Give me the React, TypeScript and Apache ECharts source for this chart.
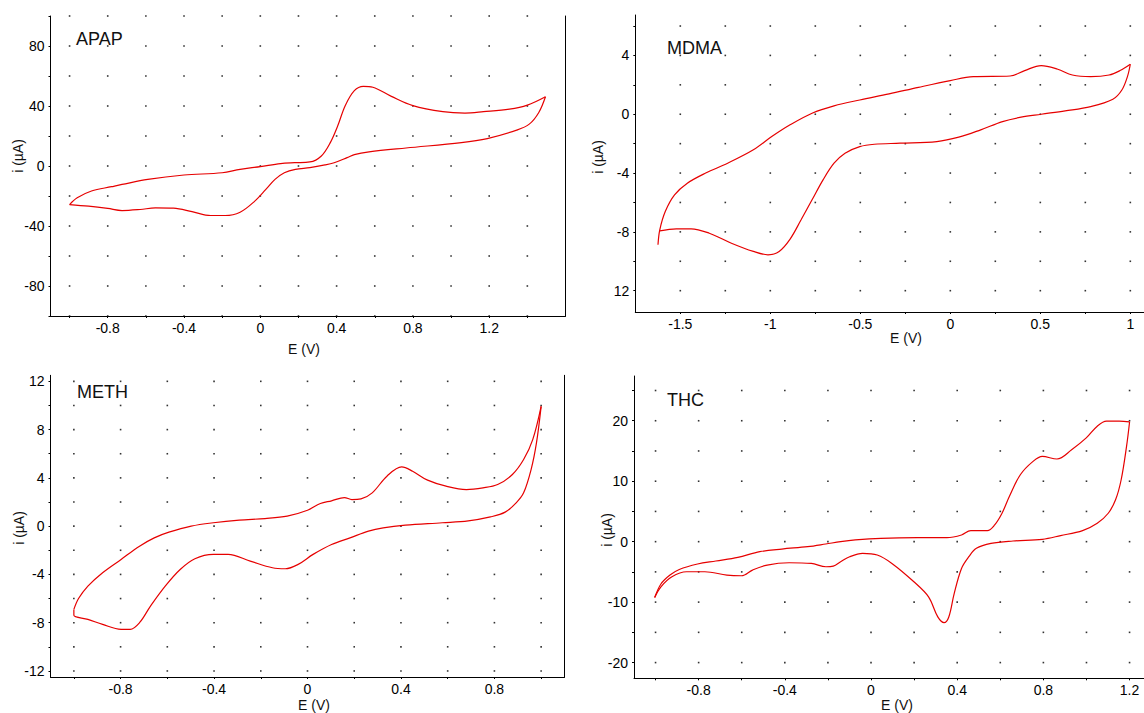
import React, { useEffect, useRef } from "react";
import * as echarts from "echarts";

const FONT = "'Liberation Sans', Arial, Helvetica, sans-serif";
const RED = "#e60000";

// ---------- APAP ----------
const apapFwdE = [-1.0, -0.96, -0.885, -0.78, -0.725, -0.59, -0.4, -0.2, -0.106, 0, 0.106, 0.18, 0.26, 0.32, 0.367, 0.406, 0.445, 0.493, 0.54, 0.59, 0.687, 0.8, 0.957, 1.073, 1.17, 1.306, 1.4, 1.495];
const apapFwdI = [-25.7, -21.2, -16.7, -13.8, -12.3, -8.9, -6.0, -4.5, -2.2, -0.4, 1.6, 2.2, 2.7, 6.7, 15.6, 26.8, 40.2, 50.2, 53.1, 52.5, 46.4, 40.2, 36.2, 35.3, 36.2, 37.9, 40.6, 46.2];
const apapRevE = [1.495, 1.46, 1.41, 1.344, 1.19, 1.054, 0.764, 0.57, 0.493, 0.455, 0.387, 0.339, 0.26, 0.184, 0.126, 0.077, 0.029, -0.029, -0.106, -0.184, -0.26, -0.358, -0.455, -0.55, -0.63, -0.725, -0.8, -0.9, -1.0];
const apapRevI = [46.2, 35.7, 27.9, 23.9, 18.3, 15.6, 12.0, 9.4, 7.6, 5.6, 2.2, 0.7, -1.1, -2.2, -4.5, -8.9, -15.6, -23.4, -30.8, -33.0, -33.0, -30.4, -28.1, -27.9, -29.0, -29.7, -28.3, -26.8, -25.7];
const apapXTicks = [-0.8, -0.4, 0, 0.4, 0.8, 1.2];
const apapXTickLabels = ["-0.8", "-0.4", "0", "0.4", "0.8", "1.2"];
const apapYTicks = [-80, -40, 0, 40, 80];
const apapYTickLabels = ["-80", "-40", "0", "40", "80"];
const apapXGrid = [-1.0, -0.8, -0.6, -0.4, -0.2, 0, 0.2, 0.4, 0.6, 0.8, 1.0, 1.2, 1.4];
const apapYGrid = [-100, -80, -60, -40, -20, 0, 20, 40, 60, 80, 100];

// ---------- MDMA ----------
const mdmaFwdE = [-1.624, -1.614, -1.583, -1.532, -1.461, -1.359, -1.237, -1.094, -0.992, -0.89, -0.768, -0.646, -0.503, -0.34, -0.177, 0, 0.128, 0.332, 0.413, 0.505, 0.597, 0.678, 0.78, 0.882, 0.943, 1.0];
const mdmaFwdI = [-8.88, -7.86, -6.6, -5.48, -4.69, -4.0, -3.33, -2.42, -1.52, -0.72, 0.07, 0.57, 0.97, 1.38, 1.83, 2.29, 2.56, 2.6, 2.97, 3.31, 3.06, 2.67, 2.56, 2.67, 2.97, 3.4];
const mdmaRevE = [1.0, 0.984, 0.953, 0.903, 0.78, 0.638, 0.505, 0.393, 0.29, 0.169, 0.047, -0.075, -0.279, -0.422, -0.503, -0.585, -0.646, -0.707, -0.768, -0.829, -0.89, -0.951, -1.013, -1.094, -1.216, -1.339, -1.44, -1.522, -1.614];
const mdmaRevI = [3.4, 2.56, 1.65, 1.02, 0.52, 0.23, 0, -0.2, -0.5, -1.06, -1.56, -1.86, -1.97, -2.04, -2.2, -2.65, -3.33, -4.46, -5.82, -7.18, -8.49, -9.33, -9.56, -9.33, -8.77, -8.09, -7.79, -7.79, -7.93];
const mdmaXTicks = [-1.5, -1, -0.5, 0, 0.5, 1];
const mdmaXTickLabels = ["-1.5", "-1", "-0.5", "0", "0.5", "1"];
const mdmaYTicks = [4, 0, -4, -8, -12];
const mdmaYTickLabels = ["4", "0", "-4", "-8", "12"];
const mdmaXGrid = [-1.5, -1.25, -1.0, -0.75, -0.5, -0.25, 0, 0.25, 0.5, 0.75, 1.0];
const mdmaYGrid = [-12, -10, -8, -6, -4, -2, 0, 2, 4, 6];

// ---------- METH ----------
const methFwdE = [-1.0, -0.98, -0.94, -0.877, -0.798, -0.719, -0.656, -0.593, -0.498, -0.403, -0.292, -0.182, -0.087, 0, 0.055, 0.103, 0.158, 0.19, 0.229, 0.277, 0.34, 0.403, 0.45, 0.514, 0.593, 0.68, 0.751, 0.814, 0.877, 0.925, 0.964, 1.0];
const methFwdI = [-6.9, -6.0, -4.97, -3.86, -2.76, -1.66, -0.97, -0.5, 0, 0.28, 0.5, 0.63, 0.83, 1.32, 1.88, 2.1, 2.37, 2.2, 2.26, 2.76, 4.14, 4.91, 4.55, 3.81, 3.31, 3.03, 3.17, 3.45, 4.28, 5.52, 7.17, 9.93];
const methRevE = [1.0, 0.98, 0.957, 0.925, 0.893, 0.846, 0.783, 0.688, 0.577, 0.419, 0.324, 0.261, 0.182, 0.103, 0.024, -0.04, -0.095, -0.15, -0.245, -0.34, -0.403, -0.482, -0.545, -0.609, -0.672, -0.719, -0.759, -0.798, -0.877, -0.94, -1.0, -1.0];
const methRevI = [9.93, 6.9, 4.69, 2.76, 1.93, 1.16, 0.77, 0.44, 0.28, 0.08, -0.14, -0.41, -0.97, -1.52, -2.34, -3.17, -3.53, -3.45, -2.9, -2.34, -2.34, -2.7, -3.59, -4.97, -6.62, -8.0, -8.55, -8.55, -8.14, -7.72, -7.39, -6.9];
const methXTicks = [-0.8, -0.4, 0, 0.4, 0.8];
const methXTickLabels = ["-0.8", "-0.4", "0", "0.4", "0.8"];
const methYTicks = [12, 8, 4, 0, -4, -8, -12];
const methYTickLabels = ["12", "8", "4", "0", "-4", "-8", "-12"];
const methXGrid = [-1.0, -0.8, -0.6, -0.4, -0.2, 0, 0.2, 0.4, 0.6, 0.8, 1.0];
const methYGrid = [-12, -10, -8, -6, -4, -2, 0, 2, 4, 6, 8, 10, 12];

// ---------- THC ----------
const thcFwdE = [-1.004, -0.975, -0.933, -0.89, -0.805, -0.72, -0.618, -0.516, -0.414, -0.294, -0.21, -0.141, -0.073, 0.046, 0.216, 0.352, 0.42, 0.463, 0.54, 0.574, 0.608, 0.642, 0.693, 0.752, 0.795, 0.863, 0.931, 0.999, 1.05, 1.093, 1.152, 1.2];
const thcFwdI = [-9.24, -7.0, -5.53, -4.6, -3.7, -3.2, -2.6, -1.66, -1.22, -0.83, -0.39, 0, 0.28, 0.55, 0.66, 0.66, 1.1, 1.83, 1.83, 2.77, 4.7, 7.47, 11.07, 13.28, 14.1, 13.67, 15.2, 17.16, 19.1, 19.92, 19.92, 19.8];
const thcRevE = [1.2, 1.186, 1.161, 1.135, 1.101, 1.05, 0.982, 0.88, 0.795, 0.659, 0.557, 0.489, 0.454, 0.42, 0.386, 0.361, 0.339, 0.31, 0.267, 0.199, 0.097, 0.029, -0.039, -0.099, -0.141, -0.175, -0.209, -0.277, -0.38, -0.482, -0.55, -0.601, -0.669, -0.771, -0.856, -0.924, -0.975, -1.004];
const thcRevI = [19.8, 15.77, 10.24, 6.92, 4.7, 3.04, 1.83, 1.0, 0.39, 0.11, -0.28, -1.1, -2.49, -4.43, -8.58, -12.45, -13.4, -12.45, -9.13, -6.64, -3.6, -2.21, -1.94, -2.49, -3.32, -4.04, -4.15, -3.6, -3.49, -3.87, -4.7, -5.64, -5.53, -4.98, -4.98, -5.81, -7.47, -9.24];
const thcXTicks = [-0.8, -0.4, 0, 0.4, 0.8, 1.2];
const thcXTickLabels = ["-0.8", "-0.4", "0", "0.4", "0.8", "1.2"];
const thcYTicks = [20, 10, 0, -10, -20];
const thcYTickLabels = ["20", "10", "0", "-10", "-20"];
const thcXGrid = [-1.0, -0.8, -0.6, -0.4, -0.2, 0, 0.2, 0.4, 0.6, 0.8, 1.0, 1.2];
const thcYGrid = [-20, -15, -10, -5, 0, 5, 10, 15, 20, 25];

const zip = (a: number[], b: number[]) => a.map((v, k) => [v, b[k]]);

const panels = [
  {
    name: "APAP", fwd: zip(apapFwdE, apapFwdI), rev: zip(apapRevE, apapRevI),
    xTicks: apapXTicks, xLabels: apapXTickLabels, yTicks: apapYTicks, yLabels: apapYTickLabels,
    xGrid: apapXGrid, yGrid: apapYGrid,
    grid: { left: 50.5, top: 16, width: 515, height: 300 },
    xMin: -1.1, xMax: 1.6, yMin: -100, yMax: 100, border: true,
    title: [76, 38.7], xName: [304, 349], yName: [18, 156],
  },
  {
    name: "MDMA", fwd: zip(mdmaFwdE, mdmaFwdI), rev: zip(mdmaRevE, mdmaRevI),
    xTicks: mdmaXTicks, xLabels: mdmaXTickLabels, yTicks: mdmaYTicks, yLabels: mdmaYTickLabels,
    xGrid: mdmaXGrid, yGrid: mdmaYGrid,
    grid: { left: 635.3, top: 15, width: 508.7, height: 297 },
    xMin: -1.75, xMax: 1.076, yMin: -13.45, yMax: 6.75, border: false,
    title: [667, 47.7], xName: [906, 338], yName: [597.6, 157],
  },
  {
    name: "METH", fwd: zip(methFwdE, methFwdI), rev: zip(methRevE, methRevI),
    xTicks: methXTicks, xLabels: methXTickLabels, yTicks: methYTicks, yLabels: methYTickLabels,
    xGrid: methXGrid, yGrid: methYGrid,
    grid: { left: 50.5, top: 375.3, width: 514, height: 301.7 },
    xMin: -1.1, xMax: 1.1, yMin: -12.5, yMax: 12.5, border: true,
    title: [77, 392], xName: [314, 705], yName: [18.6, 528],
  },
  {
    name: "THC", fwd: zip(thcFwdE, thcFwdI), rev: zip(thcRevE, thcRevI),
    xTicks: thcXTicks, xLabels: thcXTickLabels, yTicks: thcYTicks, yLabels: thcYTickLabels,
    xGrid: thcXGrid, yGrid: thcYGrid,
    grid: { left: 634, top: 376, width: 510, height: 302.3 },
    xMin: -1.1, xMax: 1.267, yMin: -22.6, yMax: 27.4, border: false,
    title: [667, 400.4], xName: [897, 705], yName: [606.8, 530],
  },
];

const labelFor = (vals: number[], labels: string[]) => (v: number) => {
  const k = vals.findIndex((t) => Math.abs(t - v) < 1e-6);
  return k >= 0 ? labels[k] : "";
};

function buildOption() {
  const grid: any[] = [];
  const xAxis: any[] = [];
  const yAxis: any[] = [];
  const series: any[] = [];
  const graphic: any[] = [];
  const axisLine = { show: true, onZero: false, lineStyle: { color: "#000", width: 1 } };
  const labelStyle = { fontSize: 14, color: "#000", fontFamily: FONT };

  panels.forEach((p, k) => {
    grid.push({ ...p.grid, containLabel: false, outerBoundsMode: "none" });
    xAxis.push({
      type: "value", gridIndex: k, min: p.xMin, max: p.xMax,
      axisLine,
      axisTick: { show: true, length: 2, customValues: p.xGrid, lineStyle: { color: "#000" } },
      axisLabel: { ...labelStyle, margin: 5, customValues: p.xTicks, formatter: labelFor(p.xTicks, p.xLabels) },
      splitLine: { show: false },
    });
    yAxis.push({
      type: "value", gridIndex: k, min: p.yMin, max: p.yMax,
      axisLine,
      axisTick: { show: true, length: 2, customValues: p.yGrid, lineStyle: { color: "#000" } },
      axisLabel: { ...labelStyle, margin: 6, customValues: p.yTicks, formatter: labelFor(p.yTicks, p.yLabels) },
      splitLine: { show: false },
    });
    const dots: number[][] = [];
    p.xGrid.forEach((x) => p.yGrid.forEach((y) => dots.push([x, y])));
    series.push({
      type: "scatter", xAxisIndex: k, yAxisIndex: k, data: dots, symbol: "rect", symbolSize: 1.6,
      itemStyle: { color: "#000" }, silent: true, z: 1,
    });
    [p.fwd, p.rev].forEach((d) => {
      series.push({
        type: "line", xAxisIndex: k, yAxisIndex: k, data: d, showSymbol: false, symbol: "none",
        smooth: 0.35, lineStyle: { color: RED, width: 1.2 }, silent: true, z: 3, clip: false,
      });
    });
    graphic.push({
      type: "text", x: p.title[0], y: p.title[1],
      style: { text: p.name, fontSize: 18, fontFamily: FONT, fill: "#111", textAlign: "left", textVerticalAlign: "middle" },
    });
    graphic.push({
      type: "text", x: p.xName[0], y: p.xName[1],
      style: { text: "E (V)", fontSize: 14, fontFamily: FONT, fill: "#111", textAlign: "center", textVerticalAlign: "middle" },
    });
    graphic.push({
      type: "text", x: p.yName[0], y: p.yName[1], rotation: Math.PI / 2,
      style: { text: "i (µA)", fontSize: 14, fontFamily: FONT, fill: "#111", textAlign: "center", textVerticalAlign: "middle" },
    });
  });

  // right-hand frame lines
  panels.forEach((p, k) => {
    if (!p.border) return;
    yAxis.push({
      type: "value", gridIndex: k, min: p.yMin, max: p.yMax, position: "right",
      axisLine, axisTick: { show: false }, axisLabel: { show: false }, splitLine: { show: false },
    });
  });

  return {
    animation: false,
    backgroundColor: "#fff",
    grid, xAxis, yAxis, series, graphic,
  };
}

export default function App() {
  const ref = useRef<HTMLDivElement>(null);
  useEffect(() => {
    if (!ref.current) return;
    const chart = echarts.init(ref.current, null, { renderer: "svg" });
    chart.setOption(buildOption() as any);
    return () => chart.dispose();
  }, []);
  return (
    <div
      ref={ref}
      style={{ position: "absolute", left: 0, top: 0, width: 1144, height: 713, background: "#fff" }}
    />
  );
}
